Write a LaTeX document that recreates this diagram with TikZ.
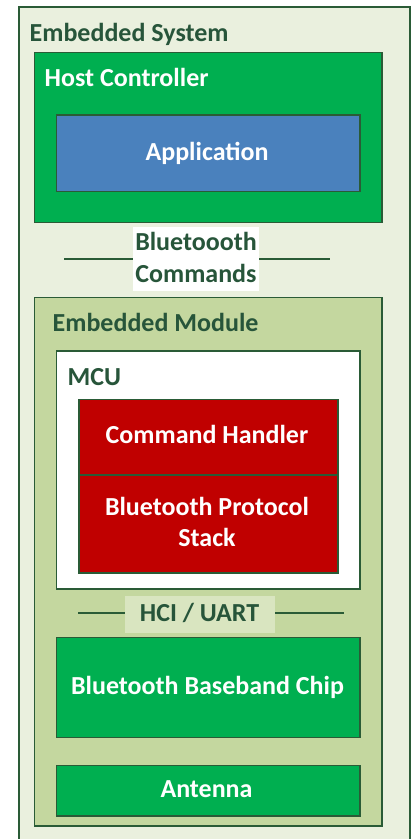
\documentclass[tikz,border=0pt]{standalone}
\usepackage{fontspec}
\setmainfont{Carlito}
\definecolor{outerfill}{HTML}{EAF0DE}
\definecolor{modfill}{HTML}{C4D79F}
\definecolor{boxgreen}{HTML}{00AF50}
\definecolor{boxblue}{HTML}{4A81BD}
\definecolor{boxred}{HTML}{C00000}
\definecolor{hcibg}{HTML}{D9E5C0}
\definecolor{darktxt}{HTML}{27553A}
\definecolor{edge}{HTML}{2A5B36}
\tikzset{
  blk/.style={draw=edge, line width=1.4pt, inner sep=0pt, outer sep=0pt},
  lbl/.style={inner sep=0pt, font=\bfseries\fontsize{26}{32}\selectfont},
  wlbl/.style={lbl, text=white},
  glbl/.style={lbl, text=darktxt},
  link/.style={draw=edge, line width=1.4pt},
}
\begin{document}
\begin{tikzpicture}[x=1pt,y=-1pt]
\useasboundingbox (0,0) rectangle (411,839);
\begin{scope}
\clip (0,0) rectangle (411,839);
% outer system
\node[blk, fill=outerfill, minimum width=391pt, minimum height=850pt] (sys) at (214.5,432) {};
\node[glbl, anchor=base west] (tsys) at (29.5,41.7) {Embedded System};
% host controller
\node[blk, fill=boxgreen, minimum width=347.7pt, minimum height=170pt] (host) at (208.2,137.7) {};
\node[wlbl, anchor=base west] (thost) at (44.5,86.5) {Host Controller};
\node[blk, fill=boxblue, minimum width=303.3pt, minimum height=76.7pt] (app) at (208.3,153.3) {};
\node[wlbl, anchor=base] (tapp) at (207,160.7) {Application};
% bluetooth commands label
\node[fill=white, minimum width=126pt, minimum height=64pt, inner sep=0pt] (bc) at (196,259) {};
\node[glbl, anchor=base] (tbc1) at (196,250.7) {Bluetoooth};
\node[glbl, anchor=base] (tbc2) at (196,282.7) {Commands};
\coordinate (bcl) at (64,259);
\coordinate (bcr) at (330,259);
\draw[link] (bcl) -- (bc.west);
\draw[link] (bc.east) -- (bcr);
% embedded module
\node[blk, fill=modfill, minimum width=347.7pt, minimum height=528.7pt] (mod) at (208.2,561.7) {};
\node[glbl, anchor=base west] (tmod) at (52.5,331.7) {Embedded Module};
% MCU
\node[blk, fill=white, minimum width=303.3pt, minimum height=238pt] (mcu) at (208.3,470) {};
\node[glbl, anchor=base west] (tmcu) at (67.5,385.7) {MCU};
\node[blk, fill=boxred, minimum width=259pt, minimum height=75.7pt] (cmd) at (208.5,437.2) {};
\node[wlbl, anchor=base] (tcmd) at (207,443.3) {Command Handler};
\node[blk, fill=boxred, minimum width=259pt, minimum height=98pt] (stack) at (208.5,524) {};
\node[wlbl, anchor=base] (tst1) at (207,515) {Bluetooth Protocol};
\node[wlbl, anchor=base] (tst2) at (207,546.7) {Stack};
% HCI / UART
\node[fill=hcibg, minimum width=150pt, minimum height=37pt, inner sep=0pt] (hci) at (200,614.5) {};
\node[glbl, anchor=base] (thci) at (199.5,621.7) {HCI / UART};
\coordinate (hcil) at (78,613);
\coordinate (hcir) at (344,613);
\draw[link] (hcil) -- (hcil -| hci.west);
\draw[link] (hcir -| hci.east) -- (hcir);
% baseband chip
\node[blk, fill=boxgreen, minimum width=303.3pt, minimum height=99.6pt] (bb) at (208.3,687.5) {};
\node[wlbl, anchor=base] (tbb) at (207.5,694.3) {Bluetooth Baseband Chip};
% antenna
\node[blk, fill=boxgreen, minimum width=303.3pt, minimum height=50.3pt] (ant) at (208.3,790.8) {};
\node[wlbl, anchor=base] (tant) at (206.5,797.7) {Antenna};
\end{scope}
\end{tikzpicture}
\end{document}
